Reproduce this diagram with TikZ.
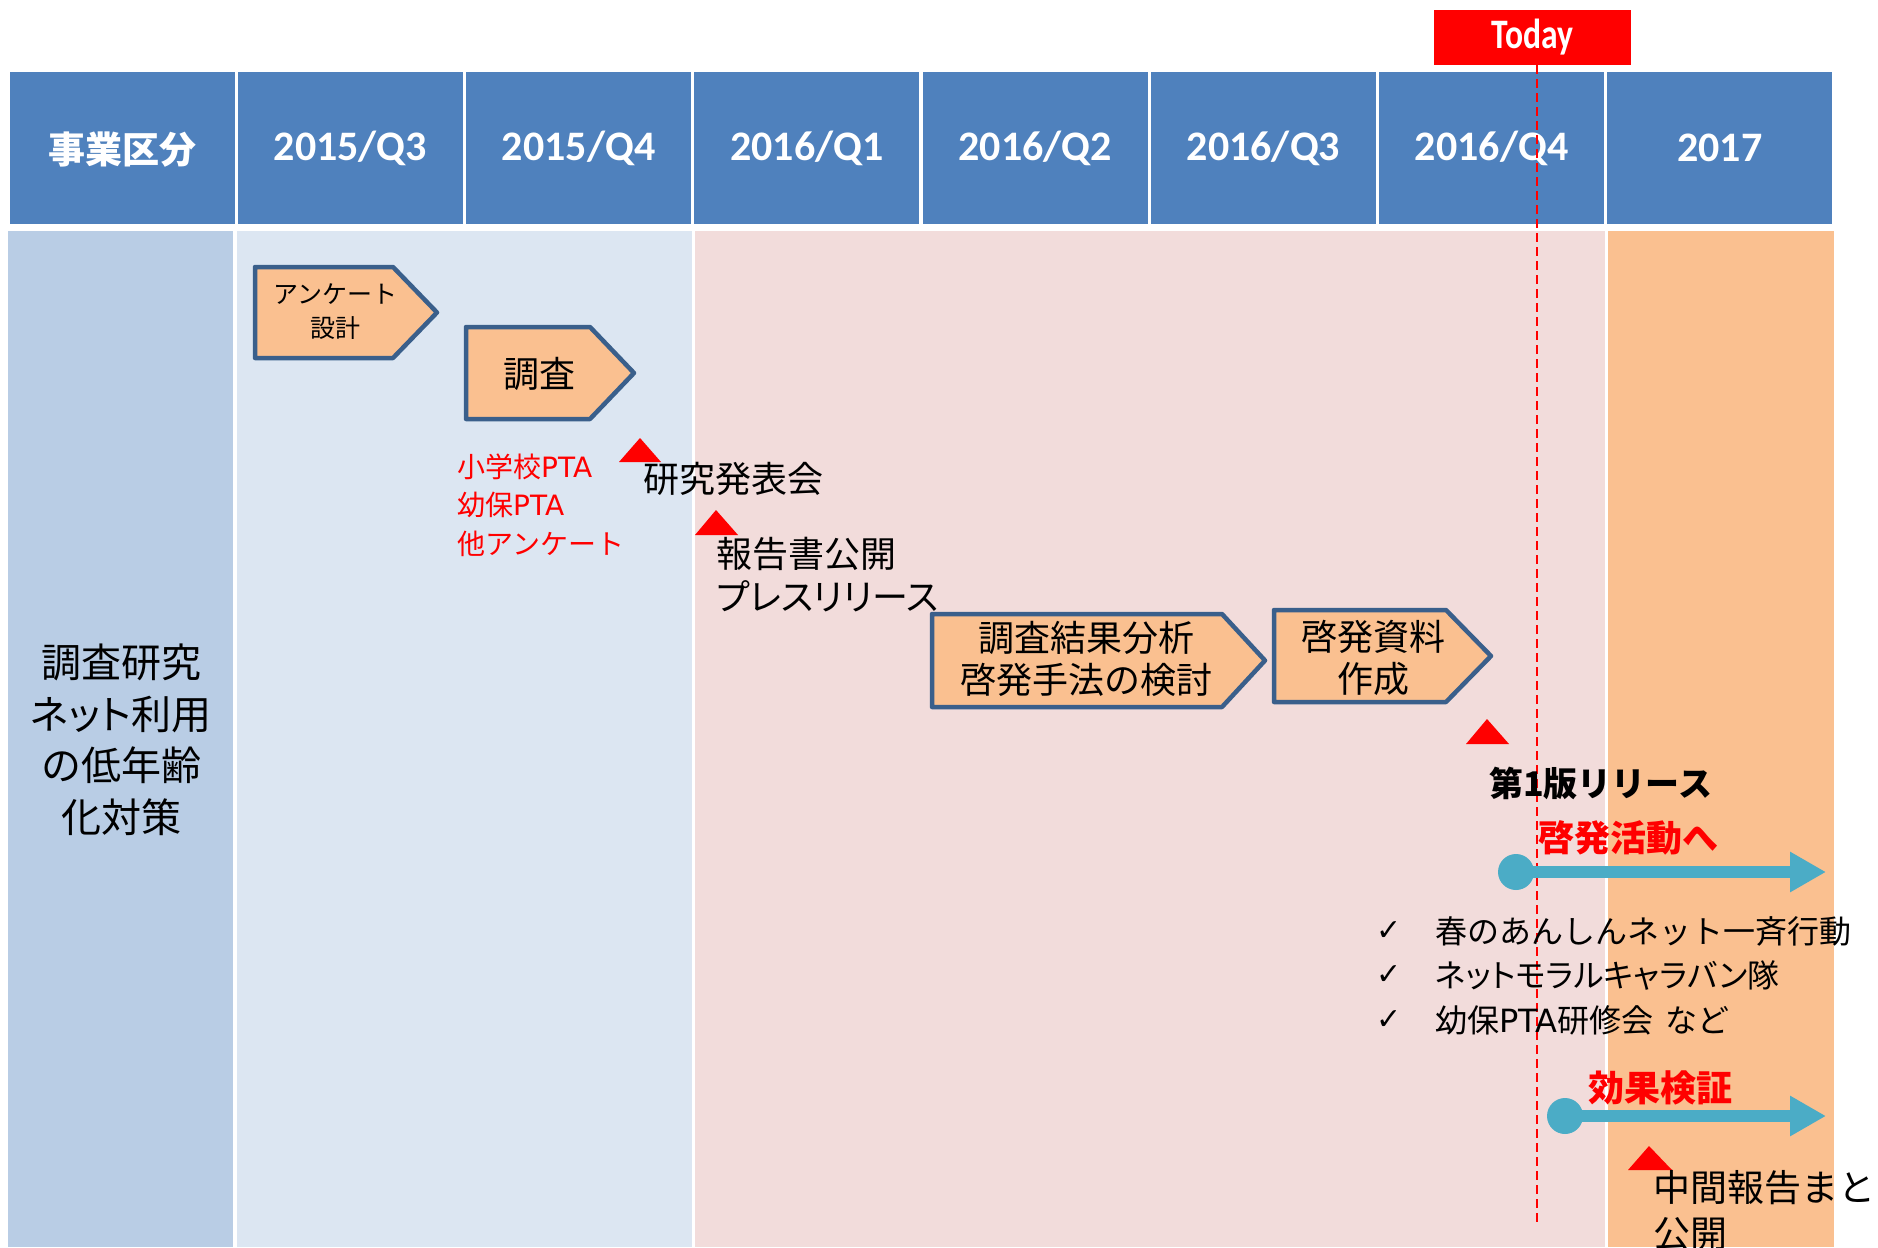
\documentclass[tikz,border=0pt]{standalone}
\usepackage{fontspec}
\setmainfont{Noto Sans CJK JP}
\newfontfamily\pfont{Noto Sans CJK JP}[RawFeature=+palt]
\newfontfamily\latf{Carlito}
\newfontfamily\todayf{Carlito}[FakeStretch=0.8]
\newfontfamily\symf{DejaVu Sans}
\newcommand{\wpta}{{\symf PTA}}
\usetikzlibrary{arrows.meta}
\definecolor{hdr}{HTML}{4F81BD}
\definecolor{colA}{HTML}{B9CDE5}
\definecolor{colB}{HTML}{DCE6F2}
\definecolor{colC}{HTML}{F2DCDB}
\definecolor{colD}{HTML}{FAC090}
\definecolor{chevfill}{HTML}{FAC090}
\definecolor{chevline}{HTML}{3A5F8B}
\definecolor{arr}{HTML}{4BACC6}
\definecolor{todayred}{HTML}{FF0000}
\tikzset{
  hdrcell/.style={fill=hdr, text=white, minimum width=225pt, minimum height=152pt, inner sep=0pt,
    font=\latf\bfseries\fontsize{42}{50}\selectfont},
  chev/.style={fill=chevfill, draw=chevline, line width=4.5pt, line join=round},
  chevtext/.style={align=center, inner sep=0pt, font=\fontsize{36}{42}\selectfont},
  milestone/.style={fill=todayred},
  lbl/.style={anchor=west, align=left, inner sep=0pt},
  bluearrow/.style={draw=arr, line width=12pt, -{Triangle[length=36pt,width=38pt]}},
  startdot/.style={fill=arr},
}
\begin{document}
\begin{tikzpicture}[x=1pt,y=-1pt]
\useasboundingbox (0,0) rectangle (1878,1247);
\clip (0,0) rectangle (1878,1247);
\fill[white] (0,0) rectangle (1878,1247);

% body backgrounds
\fill[colA] (8,231) rectangle (233,1247);
\fill[colB] (237,231) rectangle (691.5,1247);
\fill[colC] (694.5,231) rectangle (1604.5,1247);
\fill[colD] (1607.5,231) rectangle (1834,1247);

% header
\node[hdrcell, text depth=0pt] (h0) at (122.1,148) {};
\node[text=white, inner sep=0pt, font=\bfseries\fontsize{37}{44}\selectfont] (h0t) at (122.1,150) {事業区分};
\node[hdrcell] (h1) at (350.4,148) {\raisebox{-3pt}{2015/Q3}};
\node[hdrcell] (h2) at (578.6,148) {\raisebox{-3pt}{2015/Q4}};
\node[hdrcell] (h3) at (806.9,148) {\raisebox{-3pt}{2016/Q1}};
\node[hdrcell] (h4) at (1035.1,148) {\raisebox{-3pt}{2016/Q2}};
\node[hdrcell] (h5) at (1263.4,148) {\raisebox{-3pt}{2016/Q3}};
\node[hdrcell] (h6) at (1491.6,148) {\raisebox{-3pt}{2016/Q4}};
\node[hdrcell] (h7) at (1719.9,148) {\raisebox{-3pt}{2017}};

% left column label
\node[align=center, inner sep=0pt, font=\fontsize{40}{51.5}\selectfont] (rowlabel) at (121,740)
  {調査研究\\{\pfont ネット}利用\\の低年齢\\化対策};

% Today marker
\node[fill=todayred, text=white, minimum width=197pt, minimum height=55pt, inner sep=0pt,
  font=\todayf\bfseries\fontsize{42}{46}\selectfont] (today) at (1532.5,37.5) {\raisebox{-4pt}{Today}};
\coordinate (todaytop) at (1537,65);
\coordinate (todayend) at (1537,1222);
\draw[todayred, line width=2pt, dash pattern=on 9pt off 5pt] (todaytop) -- (todayend);

% chevrons
\draw[chev] (255,267) -- (393,267) -- (437,312.5) -- (393,358) -- (255,358) -- cycle;
\node[chevtext, font=\fontsize{25}{34}\selectfont] (c1) at (335,312) {アンケート\\設計};
\draw[chev] (466,327) -- (590,327) -- (634,373) -- (590,419) -- (466,419) -- cycle;
\node[chevtext] (c2) at (539,374) {調査};
\draw[chev] (932,614) -- (1222,614) -- (1265,660.5) -- (1222,707) -- (932,707) -- cycle;
\node[chevtext] (c3) at (1086,659) {調査結果分析\\啓発手法の検討};
\draw[chev] (1274,610) -- (1446,610) -- (1491,656) -- (1446,702) -- (1274,702) -- cycle;
\node[chevtext] (c4) at (1373,658) {啓発資料\\作成};

% milestones
\fill[milestone] (619,462) -- (640,438) -- (661,462) -- cycle;
\fill[milestone] (695,535) -- (716,510) -- (738,535) -- cycle;
\fill[milestone] (1466,744) -- (1487,719) -- (1509,744) -- cycle;
\fill[milestone] (1628,1170) -- (1649,1146) -- (1672,1170) -- cycle;

% labels
\node[lbl, font=\fontsize{36}{42}\selectfont] (m1) at (643,479) {研究発表会};
\node[lbl, text=todayred, font=\fontsize{28}{38.5}\selectfont] (survey) at (457,505)
  {小学校\wpta\\幼保\wpta\\他アンケート};
\node[lbl, font=\fontsize{36}{43}\selectfont] (m2) at (716,574.5) {報告書公開\\{\pfont プレスリリース}};
\node[lbl, font=\bfseries\fontsize{34}{40}\selectfont] (m3) at (1489,783) {第1版リリース};
\node[lbl, text=todayred, font=\bfseries\fontsize{36}{42}\selectfont] (act) at (1538,838) {啓発活動へ};

% arrow 1
\coordinate (a1s) at (1516,872);
\coordinate (a1e) at (1826,872);
\draw[bluearrow] (a1s) -- (a1e);
\fill[startdot] (a1s) circle (18);

% check list
\node[lbl, font=\symf\fontsize{30}{44.5}\selectfont] (checks) at (1376,975.5) {✓\\✓\\✓};
\node[lbl, font=\fontsize{32}{44.5}\selectfont] (acts) at (1435,975.5)
  {春のあんしんネット一斉行動\\{\pfont ネットモラルキャラバン}隊\\幼保\wpta 研修会\hspace{12pt}など};

% arrow 2
\node[lbl, text=todayred, font=\bfseries\fontsize{36}{42}\selectfont] (eff) at (1588,1088) {効果検証};
\coordinate (a2s) at (1565,1116);
\coordinate (a2e) at (1826,1116);
\draw[bluearrow] (a2s) -- (a2e);
\fill[startdot] (a2s) circle (18);

\node[lbl, font=\fontsize{37}{46}\selectfont] (m4) at (1653,1211) {中間報告まとめ\\公開};
\end{tikzpicture}
\end{document}
